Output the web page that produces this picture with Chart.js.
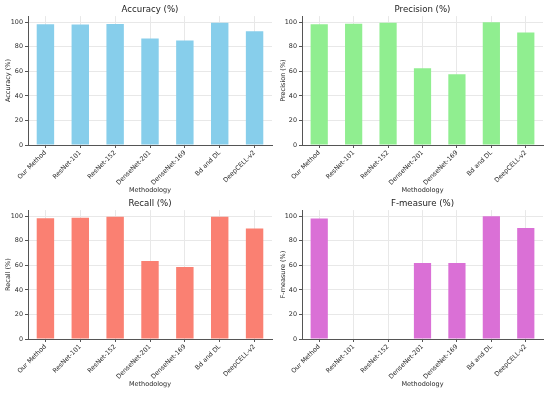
<!DOCTYPE html>
<html><head><meta charset="utf-8">
<script src="https://cdn.jsdelivr.net/npm/chart.js@4.4.1/dist/chart.umd.min.js"></script>
<style>
body{margin:0;background:#fff;width:550px;height:393px;position:relative;overflow:hidden}
canvas{position:absolute}
</style></head>
<body>
<canvas id="c1" width="275" height="196" style="left:0;top:0"></canvas>
<canvas id="c2" width="275" height="196" style="left:275px;top:0"></canvas>
<canvas id="c3" width="275" height="197" style="left:0;top:196px"></canvas>
<canvas id="c4" width="275" height="197" style="left:275px;top:196px"></canvas>
<script>
const methods = ['Our Method','ResNet-101','ResNet-152','DenseNet-201','DenseNet-169','Bd and DL','DeepCELL-v2'];
const accuracy = [98.4, 98.1, 98.6, 86.8, 85.1, 99.7, 92.7];
const precision = [98.4, 98.8, 99.6, 62.5, 57.6, 100, 91.7];
const recall = [98.3, 98.8, 99.6, 63.5, 58.6, 99.7, 90.0];
const fmeasure = [98.1, 0, 0, 61.9, 61.9, 100, 90.5];
const yTicks = [0, 20, 40, 60, 80, 100];

const FONT = "'DejaVu Sans', sans-serif";
Chart.defaults.font.family = FONT;
Chart.defaults.color = '#2a2a2a';

function make(id, title, ylabel, values, color, geo) {
  new Chart(document.getElementById(id), {
    type: 'bar',
    data: { labels: methods, datasets: [{ data: values, backgroundColor: color, borderWidth: 0,
      categoryPercentage: 1, barPercentage: 0.5 }] },
    options: {
      responsive: false, animation: false, devicePixelRatio: 1,
      layout: { padding: { left: 0, right: geo.right, top: 0, bottom: 0 } },
      plugins: {
        legend: { display: false }, tooltip: { enabled: false },
        title: { display: true, fullSize: false, text: title, color: '#222', font: { size: 8.6, weight: 'normal' },
          padding: { top: geo.titleTop, bottom: geo.titleBottom } }
      },
      scales: {
        x: {
          offset: true,
          grid: { offset: false, color: '#e8e8e8', tickColor: '#555', tickLength: 3, drawTicks: true },
          border: { color: '#555', width: 1 },
          ticks: { minRotation: 45, maxRotation: 45, autoSkip: false, font: { size: 6.4 }, color: '#2a2a2a', padding: 1 },
          title: { display: true, text: 'Methodology', font: { size: 6.5 }, color: '#2a2a2a', padding: { top: 0, bottom: geo.xTitleBottom } },
          afterFit: s => { s.height = geo.xHeight; }
        },
        y: {
          min: 0, max: 105,
          afterBuildTicks: s => { s.ticks = yTicks.map(v => ({ value: v })); },
          grid: { color: '#e8e8e8', tickColor: '#555', tickLength: 3 },
          border: { color: '#555', width: 1 },
          ticks: { font: { size: 6.4 }, color: '#2a2a2a', padding: 2 },
          title: { display: true, text: ylabel, font: { size: 6.5 }, color: '#2a2a2a', padding: { top: 4, bottom: 0 } },
          afterFit: s => { s.width = geo.yWidth; }
        }
      }
    }
  });
}
const topGeo = { right: 3, titleTop: 5, titleBottom: 0.8, xHeight: 51, xTitleBottom: 2, yWidth: 28 };
const topGeoR = { right: 7, titleTop: 5, titleBottom: 0.8, xHeight: 51, xTitleBottom: 2, yWidth: 27 };
const botGeo = { right: 3, titleTop: 3, titleBottom: 0.8, xHeight: 54, xTitleBottom: 5, yWidth: 28 };
const botGeoR = { right: 7, titleTop: 3, titleBottom: 0.8, xHeight: 54, xTitleBottom: 5, yWidth: 27 };
make('c1', 'Accuracy (%)', 'Accuracy (%)', accuracy, '#87CEEB', topGeo);
make('c2', 'Precision (%)', 'Precision (%)', precision, '#90EE90', topGeoR);
make('c3', 'Recall (%)', 'Recall (%)', recall, '#FA8072', botGeo);
make('c4', 'F-measure (%)', 'F-measure (%)', fmeasure, '#DA70D6', botGeoR);
</script>
</body></html>
